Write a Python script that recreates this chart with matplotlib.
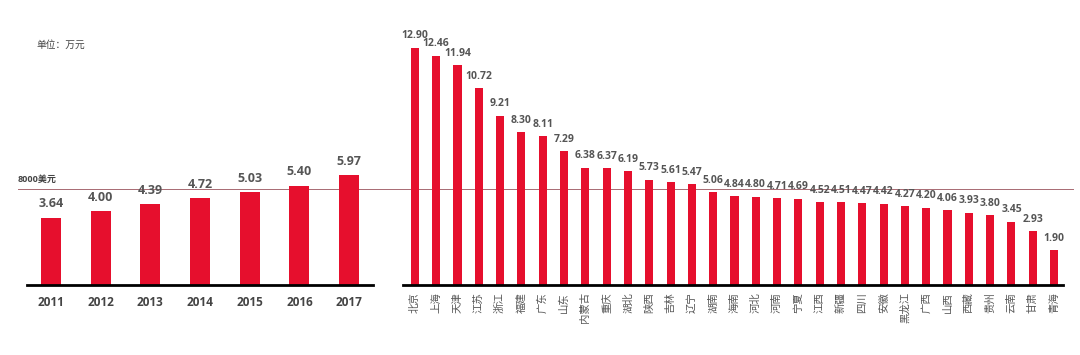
import numpy as np
import matplotlib
matplotlib.use("Agg")
import matplotlib.pyplot as plt
import matplotlib.transforms as mtransforms

plt.rcParams['font.family'] = ['Open Sans', 'Noto Sans CJK SC', 'DejaVu Sans']
cjk = ['Noto Sans CJK SC', 'DejaVu Sans']

years = ["2011", "2012", "2013", "2014", "2015", "2016", "2017"]
year_vals = [3.64, 4.00, 4.39, 4.72, 5.03, 5.40, 5.97]

provinces = ["北京", "上海", "天津", "江苏", "浙江", "福建", "广东", "山东", "内蒙古",
             "重庆", "湖北", "陕西", "吉林", "辽宁", "湖南", "海南", "河北", "河南",
             "宁夏", "江西", "新疆", "四川", "安徽", "黑龙江", "广西", "山西", "西藏",
             "贵州", "云南", "甘肃", "青海"]
prov_vals = [12.90, 12.46, 11.94, 10.72, 9.21, 8.30, 8.11, 7.29, 6.38,
             6.37, 6.19, 5.73, 5.61, 5.47, 5.06, 4.84, 4.80, 4.71,
             4.69, 4.52, 4.51, 4.47, 4.42, 4.27, 4.20, 4.06, 3.93,
             3.80, 3.45, 2.93, 1.90]

line_val = 5.2  # 8000美元 约合万元

red = "#e60f2d"
txt = "#555555"
W, H = 1080, 355

fig = plt.figure(figsize=(W / 100, H / 100), dpi=100)
bottom = (H - 285) / H
top_lim = 14.0
height = top_lim * 18.4 / H

ax1 = fig.add_axes([27 / W, bottom, (373 - 27) / W, height])
ax2 = fig.add_axes([403 / W, bottom, (1063 - 403) / W, height])

# 左: 全国历年
x1 = np.arange(len(years))
ax1.bar(x1, year_vals, width=0.4, color=red, zorder=2)
for xi, v in zip(x1, year_vals):
    ax1.annotate(f"{v:.2f}", (xi, v), xytext=(0, 5.5), textcoords="offset points",
                 ha="center", va="bottom", fontsize=9, fontweight="bold", color=txt)
ax1.set_xticks(x1)
ax1.set_xticklabels(years, fontsize=8.5, fontweight="bold", color="#444444")
ax1.set_xlim(-0.48, 6.48)

# 右: 各省
x2 = np.arange(len(provinces))
ax2.bar(x2, prov_vals, width=0.38, color=red, zorder=2)
for xi, v in zip(x2, prov_vals):
    ax2.annotate(f"{v:.2f}", (xi, v), xytext=(0, 4.5), textcoords="offset points",
                 ha="center", va="bottom", fontsize=7.5, fontweight="bold", color=txt)
ax2.set_xticks(x2)
ax2.set_xticklabels(provinces, rotation=90, fontsize=7.5, fontweight="medium",
                    color="#555555", family=cjk)
ax2.set_xlim(-0.56, 30.42)

for ax in (ax1, ax2):
    ax.set_ylim(0, top_lim)
    ax.set_yticks([])
    for s in ("top", "right", "left"):
        ax.spines[s].set_visible(False)
    ax.spines["bottom"].set_linewidth(2)
    ax.spines["bottom"].set_color("black")
    ax.patch.set_alpha(0)
ax1.tick_params(axis="x", length=0, pad=8)
ax2.tick_params(axis="x", length=0, pad=5)

# 8000美元 参考线 (横跨整幅图)
trans = mtransforms.blended_transform_factory(fig.transFigure, ax1.transData)
ax1.plot([18 / W, 1073 / W], [line_val, line_val], transform=trans, color="#a86a72",
         linewidth=0.7, clip_on=False, zorder=1)
ax1.annotate("8000美元", (18 / W, line_val), xycoords=trans, xytext=(0, 4),
             textcoords="offset points", ha="left", va="bottom",
             fontsize=6.5, fontweight="bold", color="#444444")

fig.text(36 / W, 1 - 45 / H, "单位：万元", ha="left", va="center", fontsize=7,
         color="#444444", family=cjk)

fig.savefig("out.png", dpi=100)
